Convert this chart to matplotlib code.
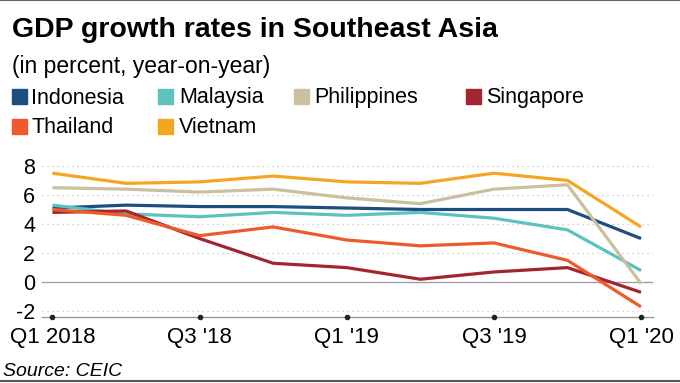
import matplotlib.pyplot as plt
import numpy as np

plt.rcParams['font.family'] = ['Liberation Sans', 'DejaVu Sans']

quarters = ["Q1 2018", "Q2 '18", "Q3 '18", "Q4 '18", "Q1 '19",
            "Q2 '19", "Q3 '19", "Q4 '19", "Q1 '20"]
indonesia   = [5.1, 5.3, 5.2, 5.2, 5.1, 5.0, 5.0, 5.0, 3.0]
malaysia    = [5.3, 4.7, 4.5, 4.8, 4.6, 4.8, 4.4, 3.6, 0.8]
philippines = [6.5, 6.4, 6.2, 6.4, 5.8, 5.4, 6.4, 6.7, -0.1]
singapore   = [4.8, 4.9, 3.0, 1.3, 1.0, 0.2, 0.7, 1.0, -0.7]
thailand    = [5.0, 4.6, 3.2, 3.8, 2.9, 2.5, 2.7, 1.5, -1.7]
vietnam     = [7.5, 6.8, 6.9, 7.3, 6.9, 6.8, 7.5, 7.0, 3.8]

series = [
    ("Indonesia", indonesia, "#1c4f7f"),
    ("Malaysia", malaysia, "#5bc2bf"),
    ("Philippines", philippines, "#c9c09d"),
    ("Singapore", singapore, "#a3262e"),
    ("Thailand", thailand, "#ee5a2b"),
    ("Vietnam", vietnam, "#f4a623"),
]

W, H = 680, 383
fig = plt.figure(figsize=(6.8, 3.83), dpi=100)
ax = fig.add_axes([0.062, 0.1723, 0.898, 0.4059])

x = np.arange(len(quarters))
for name, vals, col in series:
    ax.plot(x, vals, color=col, lw=2.3, solid_capstyle='butt', zorder=3)

# grid
for yv in [8, 6, 4, 2, -2]:
    ax.axhline(yv, color='#c4c4c4', lw=0.9, ls=(0, (1, 3)), zorder=1)
ax.axhline(0, color='#a0a0a0', lw=1.0, zorder=1)

ax.set_xlim(-0.14, 8.16)
ax.set_ylim(-2.4, 8.3)
ax.set_yticks([8, 6, 4, 2, 0, -2])
ax.set_yticklabels(['8', '6', '4', '2', '0', '-2'])
ax.set_xticks(x[::2])
ax.set_xticklabels(quarters[::2])
ax.tick_params(axis='y', length=0, pad=5, labelsize=15.5)
ax.tick_params(axis='x', length=0, pad=7, labelsize=16)
ax.plot(x[::2], [-2.4] * 5, 'o', color='#222222', ms=3, clip_on=False, zorder=4)

for s in ['top', 'right', 'left']:
    ax.spines[s].set_visible(False)
ax.spines['bottom'].set_color('#999999')
ax.spines['bottom'].set_linewidth(1.0)

# titles
fig.text(12 / W, 1 - 36.7 / H, "GDP growth rates in Southeast Asia",
         fontsize=20.5, fontweight='bold', va='baseline', ha='left')
fig.text(12 / W, 1 - 73 / H, "(in percent, year-on-year)",
         fontsize=16.5, va='baseline', ha='left')

# legend
sq_x = [12, 158, 294, 466, 12, 158]
txt_x = [31, 179, 314, 486, 31, 179]
base_y = [103.5, 103.5, 103.5, 103.5, 133, 133]
for (name, vals, col), sx, tx, by in zip(series, sq_x, txt_x, base_y):
    fig.patches.append(plt.Rectangle((sx / W, 1 - (by + 0.5) / H), 15 / W, 15 / H,
                                     transform=fig.transFigure, color=col))
    fig.text(tx / W, 1 - by / H, name, fontsize=15.5, va='baseline', ha='left')

fig.text(3 / W, 1 - 376 / H, "Source: CEIC", fontsize=14, style='italic',
         va='baseline', ha='left')

# top and bottom rules
fig.add_artist(plt.Line2D([0, 1], [0.999, 0.999], color='#666666', lw=1.5,
                          transform=fig.transFigure))
fig.add_artist(plt.Line2D([0, 1], [1 - 381 / H, 1 - 381 / H], color='#555555', lw=1.5,
                          transform=fig.transFigure))

fig.savefig('out.png', dpi=100)
